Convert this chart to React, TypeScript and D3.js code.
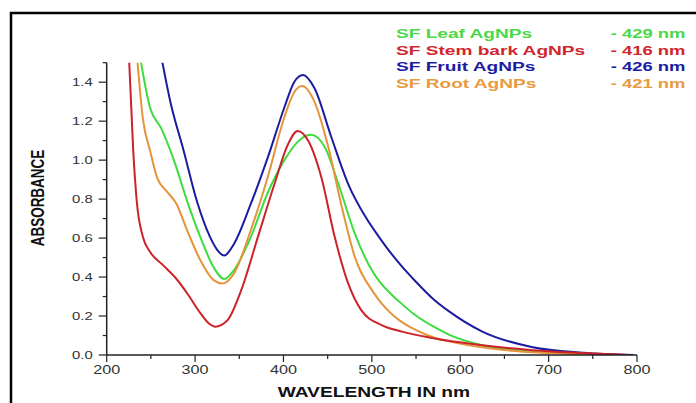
import React from "react";
import * as d3 from "d3";

// ---- data (wavelength nm, absorbance) ----
const leafWl = [237, 249, 262, 276, 291, 306, 321, 333, 344, 363, 382, 401, 420, 431, 447, 462, 481, 502, 509, 532, 549, 570, 587, 625, 682, 740, 790];
const leafAbs = [1.55, 1.27, 1.16, 1.0, 0.79, 0.605, 0.45, 0.39, 0.435, 0.605, 0.83, 1.0, 1.11, 1.13, 1.065, 0.88, 0.62, 0.42, 0.375, 0.27, 0.205, 0.145, 0.105, 0.05, 0.018, 0.005, 0.0];

const stemWl = [225, 230, 234, 241, 249, 264, 279, 291, 306, 316, 323, 330, 337, 352, 371, 390, 405, 416, 428, 443, 458, 473, 488, 511, 534, 568, 625, 682, 739, 790];
const stemAbs = [1.55, 1.05, 0.79, 0.605, 0.53, 0.46, 0.39, 0.317, 0.215, 0.16, 0.145, 0.155, 0.18, 0.33, 0.605, 0.88, 1.08, 1.15, 1.1, 0.91, 0.605, 0.37, 0.23, 0.153, 0.12, 0.087, 0.05, 0.025, 0.01, 0.0];

const fruitWl = [261, 272, 287, 302, 317, 325, 333, 344, 363, 382, 401, 412, 422, 435, 454, 473, 494, 509, 517, 532, 549, 570, 587, 625, 682, 739, 796];
const fruitAbs = [1.55, 1.3, 1.05, 0.79, 0.605, 0.54, 0.51, 0.57, 0.775, 1.01, 1.27, 1.4, 1.437, 1.37, 1.12, 0.88, 0.7, 0.6, 0.55, 0.465, 0.38, 0.285, 0.225, 0.12, 0.04, 0.012, 0.0];

const rootWl = [234, 241, 249, 257, 268, 279, 291, 306, 321, 331, 344, 363, 382, 401, 412, 421, 435, 450, 466, 481, 502, 511, 532, 549, 570, 587, 644, 700, 780];
const rootAbs = [1.55, 1.21, 1.05, 0.91, 0.84, 0.775, 0.64, 0.486, 0.384, 0.367, 0.418, 0.64, 0.91, 1.22, 1.347, 1.38, 1.3, 1.08, 0.76, 0.5, 0.32, 0.265, 0.175, 0.13, 0.09, 0.07, 0.028, 0.01, 0.0];

const seriesNames = ["SF Leaf AgNPs", "SF Stem bark AgNPs", "SF Fruit AgNPs", "SF Root AgNPs"];
const seriesPeaks = ["- 429 nm", "- 416 nm", "- 426 nm", "- 421 nm"];
const lineColors = ["#3fdc3f", "#cc2229", "#1c1ca0", "#e5943a"];
const textColors = ["#4ad84a", "#d0262c", "#1c1ca0", "#e89a40"];

const xTicks = [200, 300, 400, 500, 600, 700, 800];
const xMinor = [250, 350, 450, 550, 650, 750];
const yTicks = [0, 0.2, 0.4, 0.6, 0.8, 1.0, 1.2, 1.4];
const yMinor = [0.1, 0.3, 0.5, 0.7, 0.9, 1.1, 1.3, 1.5];

const xTitle = "WAVELENGTH IN nm";
const yTitle = "ABSORBANCE";

export default function App() {
  const W = 696, H = 403;
  const x = d3.scaleLinear().domain([200, 800]).range([106.7, 637]);
  const y = d3.scaleLinear().domain([0, 1.5]).range([355, 62.7]);
  const series = [
    { wl: leafWl, ab: leafAbs },
    { wl: stemWl, ab: stemAbs },
    { wl: fruitWl, ab: fruitAbs },
    { wl: rootWl, ab: rootAbs },
  ];
  const line = d3
    .line<[number, number]>()
    .x((d) => x(d[0]))
    .y((d) => y(d[1]))
    .curve(d3.curveMonotoneX);
  const axisColor = "#222";
  const font = "'Liberation Sans', Arial, sans-serif";
  const drawOrder = [0, 3, 2, 1];
  return (
    <svg width={W} height={H} style={{ position: "absolute", left: 0, top: 0, background: "#fff" }}>
      <defs>
        <clipPath id="plot">
          <rect x={x(200)} y={y(1.5)} width={x(800) - x(200) + 2} height={y(0) - y(1.5)} />
        </clipPath>
      </defs>
      <rect x={11} y={13} width={720} height={430} fill="none" stroke="#000" strokeWidth={2.5} />

      {/* curves */}
      <g clipPath="url(#plot)">
        {drawOrder.map((i) => (
          <path
            key={i}
            d={line(series[i].wl.map((w, k) => [w, series[i].ab[k]] as [number, number])) || ""}
            fill="none"
            stroke={lineColors[i]}
            strokeWidth={2}
          />
        ))}
      </g>

      {/* axes */}
      <line x1={x(200)} x2={x(200)} y1={y(1.5)} y2={y(0)} stroke={axisColor} strokeWidth={1.5} />
      <line x1={x(200)} x2={x(800)} y1={y(0)} y2={y(0)} stroke={axisColor} strokeWidth={1.5} />
      {yTicks.map((t) => (
        <g key={"yt" + t}>
          <line x1={x(200) - 8} x2={x(200)} y1={y(t)} y2={y(t)} stroke={axisColor} strokeWidth={1.2} />
          <text
            transform={`translate(${x(200) - 14},${y(t) + 4}) scale(1.35,1)`}
            textAnchor="end"
            fontFamily={font}
            fontSize={11}
            fill="#333"
          >
            {t.toFixed(1)}
          </text>
        </g>
      ))}
      {yMinor.map((t) => (
        <line key={"ym" + t} x1={x(200) - 4} x2={x(200)} y1={y(t)} y2={y(t)} stroke={axisColor} strokeWidth={1.2} />
      ))}
      {xTicks.map((t) => (
        <g key={"xt" + t}>
          <line x1={x(t)} x2={x(t)} y1={y(0)} y2={y(0) + 7} stroke={axisColor} strokeWidth={1.2} />
          <text
            transform={`translate(${x(t)},${y(0) + 18.5}) scale(1.35,1)`}
            textAnchor="middle"
            fontFamily={font}
            fontSize={12}
            fill="#333"
          >
            {t}
          </text>
        </g>
      ))}
      {xMinor.map((t) => (
        <line key={"xm" + t} x1={x(t)} x2={x(t)} y1={y(0)} y2={y(0) + 4} stroke={axisColor} strokeWidth={1.2} />
      ))}

      {/* axis titles */}
      <text
        transform={`translate(${(x(200) + x(800)) / 2 + 2},396.7) scale(1.37,1)`}
        textAnchor="middle"
        fontFamily={font}
        fontWeight="bold"
        fontSize={14}
        fill="#111"
      >
        {xTitle}
      </text>
      <text
        transform={`translate(44,198) scale(1.4,1) rotate(-90)`}
        textAnchor="middle"
        fontFamily={font}
        fontWeight="bold"
        fontSize={13.5}
        fill="#111"
      >
        {yTitle}
      </text>

      {/* legend */}
      {seriesNames.map((n, i) => (
        <g key={"lg" + i}>
          <text
            transform={`translate(396,${38.3 + i * 16.5}) scale(1.47,1)`}
            fontFamily={font}
            fontWeight="bold"
            fontSize={13}
            fill={textColors[i]}
          >
            {n}
          </text>
          <text
            transform={`translate(685.5,${38.3 + i * 16.5}) scale(1.42,1)`}
            textAnchor="end"
            fontFamily={font}
            fontWeight="bold"
            fontSize={13}
            fill={textColors[i]}
          >
            {seriesPeaks[i]}
          </text>
        </g>
      ))}
    </svg>
  );
}
